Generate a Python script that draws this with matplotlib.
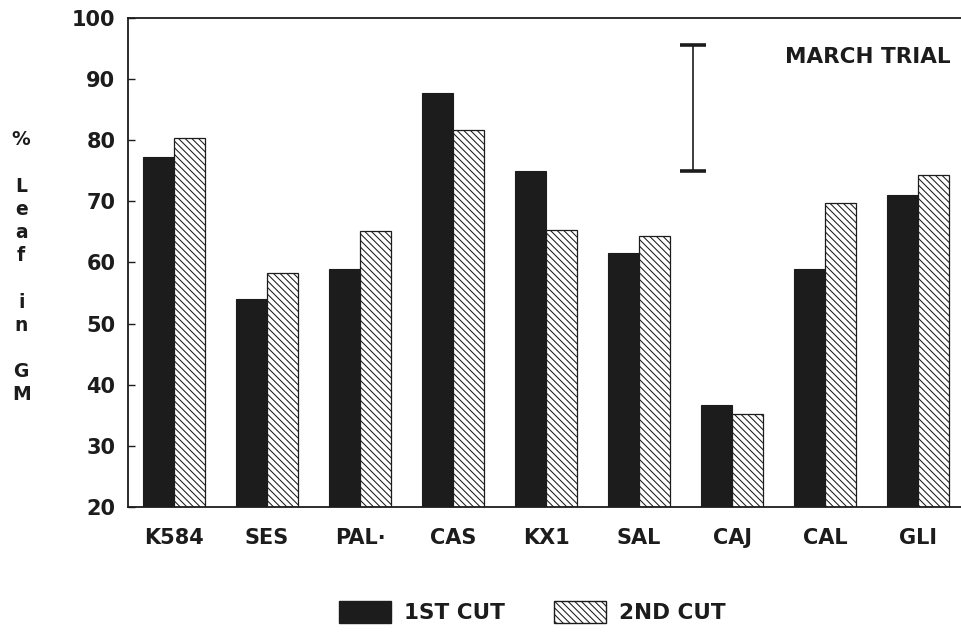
import matplotlib.pyplot as plt
from matplotlib.patches import Patch

# --- data ---
cultivars = ['K584', 'SES', 'PAL·', 'CAS', 'KX1', 'SAL', 'CAJ', 'CAL', 'GLI']
cut1 = [77.2, 54.0, 58.9, 87.8, 74.9, 61.5, 36.7, 58.9, 71.0]
cut2 = [80.3, 58.2, 65.2, 81.6, 65.3, 64.3, 35.2, 69.7, 74.3]
lsd_x = 5.58
lsd_low, lsd_high = 75.0, 95.6
yticks = [20, 30, 40, 50, 60, 70, 80, 90, 100]

plt.rcParams['font.family'] = 'DejaVu Sans'
plt.rcParams['font.weight'] = 'bold'
plt.rcParams['hatch.linewidth'] = 0.75
plt.rcParams['hatch.color'] = '#555555'

fig = plt.figure(figsize=(9.61, 6.35), dpi=100)
ax = fig.add_axes([0.133, 0.2016, 0.867, 0.7701])

ink = '#1c1c1c'
w = 0.333
x = list(range(len(cultivars)))
ax.bar([i - w / 2 for i in x], cut1, width=w, color=ink,
       edgecolor=ink, linewidth=0.8)
ax.bar([i + w / 2 for i in x], cut2, width=w, color='white',
       edgecolor=ink, linewidth=0.9, hatch='\\' * 5)

# LSD bar
mid = (lsd_low + lsd_high) / 2
ax.errorbar([lsd_x], [mid], yerr=[[mid - lsd_low], [lsd_high - mid]],
            fmt='none', ecolor=ink, elinewidth=1.2, capsize=9.5, capthick=2.6)

ax.text(0.988, 0.92, 'MARCH TRIAL', transform=ax.transAxes, ha='right',
        va='center', fontsize=15.5, color=ink)

ax.set_ylim(20, 100)
ax.set_xlim(-0.495, 8.46)
ax.set_yticks(yticks)
ax.set_xticks(x)
ax.set_xticklabels(cultivars)
ax.tick_params(axis='y', direction='in', length=5, width=1, pad=9,
               labelsize=15, colors=ink)
ax.tick_params(axis='x', length=0, pad=15, labelsize=15, colors=ink)
ax.spines['right'].set_visible(False)
for s in ['left', 'bottom', 'top']:
    ax.spines[s].set_linewidth(1.3)
    ax.spines[s].set_color(ink)

fig.text(0.022, 0.579, '%\n\nL\ne\na\nf\n\ni\nn\n\nG\nM', ha='center',
         va='center', fontsize=13.5, linespacing=1.28, color=ink)

handles = [Patch(facecolor=ink, edgecolor=ink, label='1ST CUT'),
           Patch(facecolor='white', edgecolor=ink, hatch='\\' * 5, label='2ND CUT')]
fig.legend(handles=handles, loc='center', bbox_to_anchor=(0.554, 0.036),
           ncol=2, frameon=False, fontsize=15.5, handlelength=2.4,
           handleheight=1.15, handletextpad=0.6, columnspacing=2.3,
           labelcolor=ink)

fig.savefig('out.png', dpi=100)
